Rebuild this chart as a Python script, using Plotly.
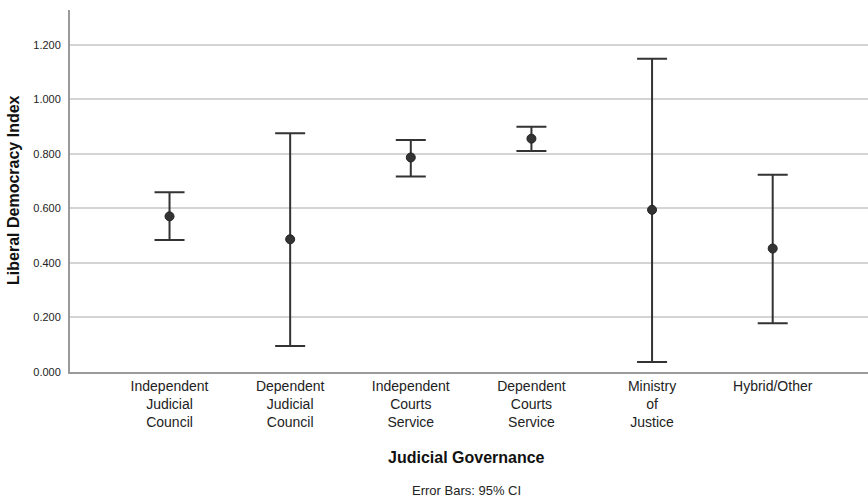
import plotly.graph_objects as go

categories = ["Independent<br>Judicial<br>Council", "Dependent<br>Judicial<br>Council",
              "Independent<br>Courts<br>Service", "Dependent<br>Courts<br>Service",
              "Ministry<br>of<br>Justice", "Hybrid/Other"]
means = [0.571, 0.487, 0.787, 0.856, 0.595, 0.453]
ci_lower = [0.484, 0.095, 0.717, 0.811, 0.037, 0.179]
ci_upper = [0.659, 0.876, 0.851, 0.900, 1.149, 0.724]
y_ticks = [0.0, 0.2, 0.4, 0.6, 0.8, 1.0, 1.2]
y_tick_labels = ["0.000", "0.200", "0.400", "0.600", "0.800", "1.000", "1.200"]

xpos = list(range(len(categories)))
err_plus = [u - m for u, m in zip(ci_upper, means)]
err_minus = [m - l for m, l in zip(means, ci_lower)]

W, H = 868, 497
L, R, T, B = 70, 0, 10, 125
plot_h = H - T - B
plot_w = W - L - R

fig = go.Figure()
fig.add_trace(go.Scatter(
    x=xpos, y=means, mode="markers",
    marker=dict(size=9, color="#333333", line=dict(width=1, color="#222222")),
    error_y=dict(type="data", symmetric=False, array=err_plus, arrayminus=err_minus,
                 color="#333333", thickness=2, width=15),
    showlegend=False, hoverinfo="skip",
))

font_family = "Liberation Sans, Arial, sans-serif"
fig.update_layout(
    width=W, height=H,
    margin=dict(l=L, r=R, t=T, b=B, pad=0),
    paper_bgcolor="white", plot_bgcolor="white",
    font=dict(family=font_family, color="#222222"),
    xaxis=dict(range=[-0.825, 5.79], tickvals=xpos, ticktext=categories,
               showgrid=False, zeroline=False, showline=True, linecolor="#9a9a9a",
               linewidth=2, ticks="", tickfont=dict(size=14, color="#222222"),
               ticklabelstandoff=0),
    yaxis=dict(range=[0, 1.328], tickvals=y_ticks, ticktext=y_tick_labels,
               showgrid=True, gridcolor="#d4d4d4", gridwidth=1.5, zeroline=False,
               showline=True, linecolor="#9a9a9a", linewidth=2, ticks="",
               tickfont=dict(size=11, color="#222222"), ticklabelstandoff=5),
    annotations=[
        dict(text="<b>Liberal Democracy Index</b>", xref="paper", yref="paper",
             x=-(L - 14) / plot_w, y=0.503, xanchor="center", yanchor="middle",
             textangle=-90, showarrow=False, font=dict(size=16, color="#111111")),
        dict(text="<b>Judicial Governance</b>", xref="paper", yref="paper",
             x=(466 - L) / plot_w, y=-(457 - (H - B)) / plot_h, xanchor="center", yanchor="middle",
             showarrow=False, font=dict(size=16, color="#111111")),
        dict(text="Error Bars: 95% CI", xref="paper", yref="paper",
             x=(466 - L) / plot_w, y=-(490 - (H - B)) / plot_h, xanchor="center", yanchor="middle",
             showarrow=False, font=dict(size=13, color="#222222")),
    ],
)
fig.write_html("out.html", config={"displayModeBar": False},
               post_script="document.body.style.margin='0';document.body.style.padding='0';")
